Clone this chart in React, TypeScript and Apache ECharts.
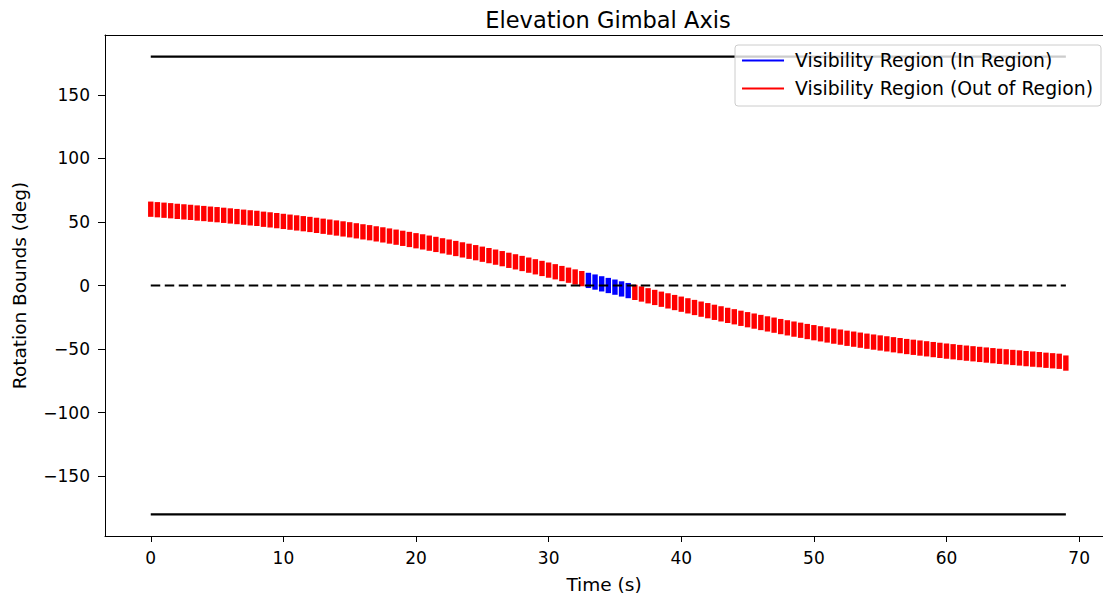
import React, { useEffect, useRef } from "react";
import * as echarts from "echarts";

// Sample times (s)
const times = [
  0, 0.5, 1, 1.5, 2, 2.5, 3, 3.5, 4, 4.5, 5, 5.5, 6, 6.5, 7, 7.5, 8, 8.5, 9, 9.5,
  10, 10.5, 11, 11.5, 12, 12.5, 13, 13.5, 14, 14.5, 15, 15.5, 16, 16.5, 17, 17.5, 18, 18.5, 19, 19.5,
  20, 20.5, 21, 21.5, 22, 22.5, 23, 23.5, 24, 24.5, 25, 25.5, 26, 26.5, 27, 27.5, 28, 28.5, 29, 29.5,
  30, 30.5, 31, 31.5, 32, 32.5, 33, 33.5, 34, 34.5, 35, 35.5, 36, 36.5, 37, 37.5, 38, 38.5, 39, 39.5,
  40, 40.5, 41, 41.5, 42, 42.5, 43, 43.5, 44, 44.5, 45, 45.5, 46, 46.5, 47, 47.5, 48, 48.5, 49, 49.5,
  50, 50.5, 51, 51.5, 52, 52.5, 53, 53.5, 54, 54.5, 55, 55.5, 56, 56.5, 57, 57.5, 58, 58.5, 59, 59.5,
  60, 60.5, 61, 61.5, 62, 62.5, 63, 63.5, 64, 64.5, 65, 65.5, 66, 66.5, 67, 67.5, 68, 68.5, 69,
];

// Upper edge of each visibility bar (deg)
const upperBound = [
  66.0, 65.6, 65.2, 64.8, 64.3, 63.9, 63.5, 63.0, 62.6, 62.1, 61.7, 61.2, 60.7, 60.2, 59.7, 59.2, 58.7, 58.1, 57.6, 57.0,
  56.4, 55.8, 55.2, 54.6, 54.0, 53.3, 52.6, 51.9, 51.2, 50.5, 49.8, 49.0, 48.2, 47.5, 46.6, 45.8, 44.9, 44.0, 43.1, 42.2,
  41.2, 40.3, 39.3, 38.3, 37.2, 36.2, 35.1, 34.0, 32.9, 31.8, 30.6, 29.5, 28.3, 27.1, 25.8, 24.6, 23.3, 22.0, 20.7, 19.4,
  18.1, 16.8, 15.4, 14.1, 12.7, 11.4, 10.0, 8.7, 7.3, 6.0, 4.7, 3.3, 2.0, 0.6, -0.7, -2.1, -3.4, -4.8, -6.1, -7.4,
  -8.7, -10.0, -11.3, -12.6, -13.8, -15.1, -16.3, -17.5, -18.6, -19.8, -20.9, -22.0, -23.1, -24.2, -25.2, -26.3, -27.3, -28.3, -29.2, -30.2,
  -31.1, -32.0, -32.9, -33.8, -34.6, -35.5, -36.2, -37.0, -37.8, -38.5, -39.2, -39.9, -40.6, -41.3, -42.0, -42.6, -43.2, -43.8, -44.4, -45.0,
  -45.6, -46.1, -46.7, -47.2, -47.7, -48.2, -48.7, -49.2, -49.7, -50.1, -50.6, -51.0, -51.5, -51.9, -52.3, -52.8, -53.2, -53.6, -55.0,
];

// Lower edge of each visibility bar (deg)
const lowerBound = [
  54.0, 53.6, 53.2, 52.8, 52.3, 51.9, 51.5, 51.0, 50.6, 50.1, 49.7, 49.2, 48.7, 48.2, 47.7, 47.2, 46.7, 46.1, 45.6, 45.0,
  44.4, 43.8, 43.2, 42.6, 42.0, 41.3, 40.6, 39.9, 39.2, 38.5, 37.8, 37.0, 36.2, 35.5, 34.6, 33.8, 32.9, 32.0, 31.1, 30.2,
  29.2, 28.3, 27.3, 26.3, 25.2, 24.2, 23.1, 22.0, 20.9, 19.8, 18.6, 17.5, 16.3, 15.1, 13.8, 12.6, 11.3, 10.0, 8.7, 7.4,
  6.1, 4.8, 3.4, 2.1, 0.7, -0.6, -2.0, -3.3, -4.7, -6.0, -7.3, -8.7, -10.0, -11.4, -12.7, -14.1, -15.4, -16.8, -18.1, -19.4,
  -20.7, -22.0, -23.3, -24.6, -25.8, -27.1, -28.3, -29.5, -30.6, -31.8, -32.9, -34.0, -35.1, -36.2, -37.2, -38.3, -39.3, -40.3, -41.2, -42.2,
  -43.1, -44.0, -44.9, -45.8, -46.6, -47.5, -48.2, -49.0, -49.8, -50.5, -51.2, -51.9, -52.6, -53.3, -54.0, -54.6, -55.2, -55.8, -56.4, -57.0,
  -57.6, -58.1, -58.7, -59.2, -59.7, -60.2, -60.7, -61.2, -61.7, -62.1, -62.6, -63.0, -63.5, -63.9, -64.3, -64.8, -65.2, -65.6, -67.0,
];

// Time window in which the target is inside the visibility region (s)
const inRegionStart = 33;
const inRegionEnd = 36;

// Gimbal rotation limits (deg)
const gimbalMax = 180;
const gimbalMin = -180;
const gimbalZero = 0;
const limitTimes = [0, 69];

const xTicks = [0, 10, 20, 30, 40, 50, 60, 70];
const yTicks = [-150, -100, -50, 0, 50, 100, 150];

const TITLE = "Elevation Gimbal Axis";
const X_NAME = "Time (s)";
const Y_NAME = "Rotation Bounds (deg)";
const IN_NAME = "Visibility Region (In Region)";
const OUT_NAME = "Visibility Region (Out of Region)";

const FONT = "DejaVu Sans";

export default function App() {
  const ref = useRef<HTMLDivElement>(null);

  useEffect(() => {
    if (!ref.current) return;
    const chart = echarts.init(ref.current, undefined, { renderer: "svg" });

    const inData: number[][] = [];
    const outData: number[][] = [];
    times.forEach((t, i) => {
      const row = [t, lowerBound[i], upperBound[i]];
      if (t >= inRegionStart && t <= inRegionEnd) inData.push(row);
      else outData.push(row);
    });

    const barRender = (color: string) => (params: any, api: any) => {
      const t = api.value(0);
      const lo = api.value(1);
      const hi = api.value(2);
      const pTop = api.coord([t, hi]);
      const pBot = api.coord([t, lo]);
      const w = 5.4;
      return {
        type: "rect",
        shape: { x: pTop[0] - w / 2, y: pTop[1], width: w, height: pBot[1] - pTop[1] },
        style: { fill: color, stroke: null },
      };
    };

    const limitLine = (v: number, dashed: boolean) => ({
      type: "line",
      data: limitTimes.map((t) => [t, v]),
      symbol: "none",
      silent: true,
      z: 5,
      lineStyle: { color: "#000", width: 2.2, type: dashed ? [9.5, 4.5] : "solid", cap: "butt" },
    });

    const minusFmt = (v: number) => String(v).replace("-", "\u2212");

    const X_MIN = -3.45;
    const X_MAX = 71.8;

    chart.setOption({
      animation: false,
      backgroundColor: "#fff",
      textStyle: { fontFamily: FONT },
      title: {
        text: TITLE,
        left: 603,
        top: 3,
        textAlign: "center",
        textStyle: { fontFamily: FONT, fontSize: 22.5, fontWeight: "normal", color: "#000" },
      },
      grid: {
        left: 105,
        right: 0,
        top: 35,
        bottom: 65,
        show: false,
      },
      legend: {
        right: 2,
        top: 45,
        orient: "vertical",
        selectedMode: false,
        backgroundColor: "rgba(255,255,255,0.8)",
        borderColor: "#cccccc",
        borderWidth: 1,
        borderRadius: 3,
        padding: [6, 8, 8, 7],
        itemGap: 9,
        itemWidth: 42,
        itemHeight: 2,
        z: 10,
        textStyle: { fontFamily: FONT, fontSize: 18.8, color: "#000", padding: [0, 0, 0, 6] },
        data: [
          { name: IN_NAME, icon: "rect", itemStyle: { color: "#0000ff" } },
          { name: OUT_NAME, icon: "rect", itemStyle: { color: "#ff0000" } },
        ],
      },
      xAxis: [
        {
          type: "value",
          min: X_MIN,
          max: X_MAX,
          name: X_NAME,
          nameLocation: "middle",
          nameGap: 39,
          nameTextStyle: { fontFamily: FONT, fontSize: 18.5, color: "#000" },
          axisLine: { show: true, onZero: false, lineStyle: { color: "#000", width: 1 } },
          axisTick: { show: true, customValues: xTicks, length: 6, lineStyle: { color: "#000" } },
          axisLabel: {
            customValues: xTicks,
            fontFamily: FONT,
            fontSize: 17,
            color: "#000",
            margin: 13,
            formatter: (v: number) => minusFmt(v),
          },
          splitLine: { show: false },
        },
        {
          type: "value",
          position: "top",
          min: X_MIN,
          max: X_MAX,
          axisLine: { show: true, onZero: false, lineStyle: { color: "#000", width: 1 } },
          axisTick: { show: false },
          axisLabel: { show: false },
          splitLine: { show: false },
        },
      ],
      yAxis: {
        type: "value",
        min: -197,
        max: 197,
        name: Y_NAME,
        nameLocation: "middle",
        nameGap: 76,
        nameRotate: 90,
        nameTextStyle: { fontFamily: FONT, fontSize: 18.5, color: "#000" },
        axisLine: { show: true, onZero: false, lineStyle: { color: "#000", width: 1 } },
        axisTick: { show: true, customValues: yTicks, length: 7, lineStyle: { color: "#000" } },
        axisLabel: {
          customValues: yTicks,
          fontFamily: FONT,
          fontSize: 17,
          color: "#000",
          margin: 15,
          formatter: (v: number) => minusFmt(v),
        },
        splitLine: { show: false },
      },
      series: [
        {
          name: OUT_NAME,
          type: "custom",
          renderItem: barRender("#ff0000"),
          data: outData,
          encode: { x: 0, y: [1, 2] },
          silent: true,
          z: 2,
        },
        {
          name: IN_NAME,
          type: "custom",
          renderItem: barRender("#0000ff"),
          data: inData,
          encode: { x: 0, y: [1, 2] },
          silent: true,
          z: 3,
        },
        limitLine(gimbalMax, false),
        limitLine(gimbalMin, false),
        limitLine(gimbalZero, true),
      ],
    });

    return () => chart.dispose();
  }, []);

  return (
    <div
      ref={ref}
      style={{ position: "absolute", left: 0, top: 0, width: 1103, height: 601, background: "#fff" }}
    />
  );
}
